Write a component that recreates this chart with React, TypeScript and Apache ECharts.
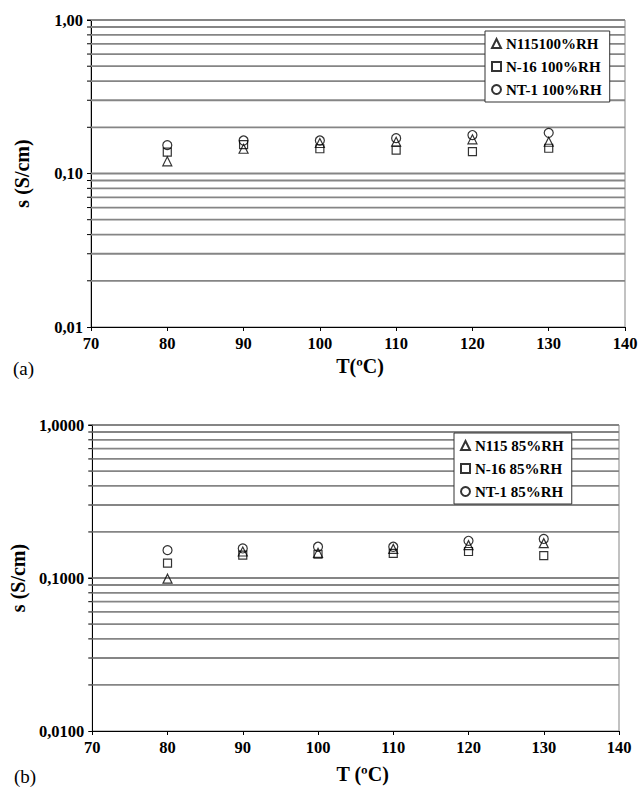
import React, { useEffect, useRef } from "react";
import * as echarts from "echarts";

const temps = [80, 90, 100, 110, 120, 130];

// (a) 100% RH
const seriesNamesA = ["N115100%RH", "N-16 100%RH", "NT-1 100%RH"];
const n115A = [0.12, 0.145, 0.158, 0.161, 0.167, 0.161];
const n16A = [0.138, 0.154, 0.145, 0.142, 0.139, 0.146];
const nt1A = [0.153, 0.164, 0.164, 0.17, 0.178, 0.184];

// (b) 85% RH
const seriesNamesB = ["N115 85%RH", "N-16 85%RH", "NT-1 85%RH"];
const n115B = [0.099, 0.149, 0.146, 0.155, 0.164, 0.169];
const n16B = [0.125, 0.141, 0.143, 0.145, 0.149, 0.14];
const nt1B = [0.152, 0.156, 0.16, 0.16, 0.175, 0.18];

const xTicks = [70, 80, 90, 100, 110, 120, 130, 140];
const yDecades = [0.01, 0.1, 1];
const yLabelsA = ["0,01", "0,10", "1,00"];
const yLabelsB = ["0,0100", "0,1000", "1,0000"];
const gridValues = [
  0.02, 0.03, 0.04, 0.05, 0.06, 0.07, 0.08, 0.09, 0.1,
  0.2, 0.3, 0.4, 0.5, 0.6, 0.7, 0.8, 0.9, 1,
];

const symbols = ["triangle", "rect", "circle"];
const symbolSizes = [9, 8, 9];
const FONT = "'Liberation Serif', 'Times New Roman', 'DejaVu Serif', serif";

function labelFor(labels: string[]) {
  return (v: number) => {
    for (let i = 0; i < yDecades.length; i++) {
      if (Math.abs(Math.log10(v) - Math.log10(yDecades[i])) < 1e-6) return labels[i];
    }
    return "";
  };
}

export default function App() {
  const ref = useRef<HTMLDivElement>(null);
  useEffect(() => {
    if (!ref.current) return;
    const chart = echarts.init(ref.current, undefined, { renderer: "svg" });
    const xMin = xTicks[0];
    const xMax = xTicks[xTicks.length - 1];

    const makeX = (gi: number, name: string, gap: number, shift: number) => ({
      type: "value",
      gridIndex: gi,
      min: xMin,
      max: xMax,
      interval: 10,
      name,
      nameLocation: "middle",
      nameGap: gap,
      nameTextStyle: { fontFamily: FONT, fontWeight: "bold", fontSize: 20, color: "#000", padding: [0, 0, 0, shift] },
      axisLine: { lineStyle: { color: "#000", width: 1 } },
      axisTick: { show: true, inside: false, length: 4, lineStyle: { color: "#000" } },
      axisLabel: { fontFamily: FONT, fontWeight: "bold", fontSize: 16.5, color: "#000", margin: 8 },
      splitLine: { show: false },
    });
    const makeY = (gi: number, labels: string[]) => ({
      type: "log",
      logBase: 10,
      gridIndex: gi,
      min: 0.01,
      max: 1,
      name: "s (S/cm)",
      nameLocation: "middle",
      nameGap: 59,
      nameRotate: 90,
      nameTextStyle: { fontFamily: FONT, fontWeight: "bold", fontSize: 20, color: "#000" },
      axisLine: { show: true, lineStyle: { color: "#000", width: 1 } },
      axisTick: { show: true, inside: false, length: 4, lineStyle: { color: "#000" } },
      axisLabel: {
        fontFamily: FONT, fontWeight: "bold", fontSize: 16.5, color: "#000", margin: 8,
        formatter: labelFor(labels),
      },
      splitLine: { show: false },
      minorTick: { show: false },
    });

    const gridSeries = (gi: number) => ({
      type: "custom",
      xAxisIndex: gi,
      yAxisIndex: gi,
      silent: true,
      z: 1,
      data: gridValues.map((v) => [xMin, v]),
      encode: { x: 0, y: 1 },
      renderItem: (params: any, api: any) => {
        const v = api.value(1);
        const p0 = api.coord([xMin, v]);
        const p1 = api.coord([xMax, v]);
        return {
          type: "group",
          children: [
            { type: "line", shape: { x1: p0[0], y1: p0[1], x2: p1[0], y2: p1[1] }, style: { stroke: "#858585", lineWidth: 1.8 } },
            { type: "line", shape: { x1: p0[0] - 4, y1: p0[1], x2: p0[0], y2: p0[1] }, style: { stroke: "#000", lineWidth: 1 } },
          ],
        };
      },
    });

    const scatter = (gi: number, name: string, vals: number[], k: number) => ({
      type: "scatter",
      name,
      xAxisIndex: gi,
      yAxisIndex: gi,
      z: 3,
      symbol: symbols[k],
      symbolSize: symbolSizes[k],
      itemStyle: { color: "rgba(255,255,255,0)", borderColor: "#000", borderWidth: 1.2 },
      data: temps.map((t, i) => [t, vals[i]]),
    });

    const legendCommon = {
      orient: "vertical",
      backgroundColor: "#fff",
      borderColor: "#333",
      borderWidth: 1,
      padding: [5, 8, 5, 6],
      itemGap: 8,
      itemWidth: 9,
      itemHeight: 9,
      selectedMode: false,
      textStyle: { fontFamily: FONT, fontWeight: "bold", fontSize: 15, lineHeight: 15, color: "#000", padding: [0, 0, 0, 0] },
    };

    chart.setOption({
      animation: false,
      backgroundColor: "#fff",
      grid: [
        { left: 91, top: 20, width: 534, height: 307, show: true, borderColor: "#858585", borderWidth: 1, backgroundColor: "transparent" },
        { left: 91, top: 425, width: 528, height: 306, show: true, borderColor: "#858585", borderWidth: 1, backgroundColor: "transparent" },
      ],
      xAxis: [makeX(0, "T(ºC)", 29, 4), makeX(1, "T (ºC)", 33, 14)],
      yAxis: [makeY(0, yLabelsA), makeY(1, yLabelsB)],
      legend: [
        { ...legendCommon, left: 485, top: 31, data: seriesNamesA },
        { ...legendCommon, left: 454, top: 433, data: seriesNamesB },
      ],
      graphic: [
        { type: "text", left: 13, top: 359, style: { text: "(a)", fontFamily: FONT, fontSize: 19, fill: "#000" } },
        { type: "text", left: 14, top: 767, style: { text: "(b)", fontFamily: FONT, fontSize: 19, fill: "#000" } },
      ],
      series: [
        gridSeries(0),
        gridSeries(1),
        scatter(0, seriesNamesA[0], n115A, 0),
        scatter(0, seriesNamesA[1], n16A, 1),
        scatter(0, seriesNamesA[2], nt1A, 2),
        scatter(1, seriesNamesB[0], n115B, 0),
        scatter(1, seriesNamesB[1], n16B, 1),
        scatter(1, seriesNamesB[2], nt1B, 2),
      ],
    });
    return () => chart.dispose();
  }, []);
  return <div ref={ref} style={{ position: "absolute", left: 0, top: 0, width: 643, height: 791 }} />;
}
